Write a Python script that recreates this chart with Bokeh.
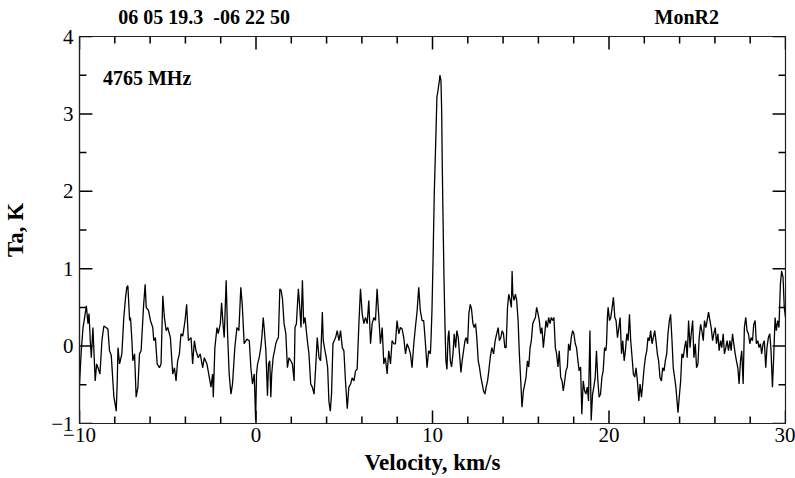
from bokeh.plotting import figure
from bokeh.models import Range1d, FixedTicker, LinearAxis, Label
from bokeh.embed import file_html
from bokeh.resources import INLINE

# ---- data: velocity (km/s) and antenna temperature Ta (K) ----
vel_a = [-10.00, -9.90, -9.80, -9.71, -9.61, -9.52, -9.46, -9.39, -9.33, -9.24,
         -9.11, -9.03, -8.95, -8.84, -8.73, -8.62, -8.50, -8.39, -8.30, -8.20,
         -8.11, -8.05, -7.98, -7.92, -7.86, -7.82, -7.73, -7.60, -7.49, -7.39,
         -7.32, -7.26, -7.16, -7.11, -7.03, -6.98, -6.88, -6.79, -6.69, -6.60,
         -6.51, -6.37, -6.28, -6.22, -6.09, -5.98, -5.85, -5.79, -5.70, -5.60,
         -5.47, -5.38, -5.28, -5.19, -5.09, -5.00, -4.85, -4.72, -4.62, -4.53,
         -4.44, -4.34, -4.25, -4.15, -4.02, -3.93, -3.83, -3.68, -3.59, -3.49,
         -3.40, -3.27, -3.16, -3.02, -2.93, -2.78, -2.68, -2.55, -2.46, -2.42,
         -2.33, -2.21, -2.14, -2.02, -1.95, -1.87, -1.80, -1.69, -1.61, -1.52,
         -1.42, -1.33, -1.20, -1.08, -0.97, -0.86, -0.78, -0.67, -0.52, -0.38,
         -0.29, -0.20, -0.10, -0.02]
ta_a = [-0.49, -0.06, 0.24, 0.37, 0.52, 0.29, 0.42, 0.07, -0.15, 0.24,
        -0.45, -0.23, -0.28, -0.36, 0.07, 0.26, 0.24, 0.22, -0.06, -0.12,
        -0.45, -0.66, -0.75, -0.84, -0.45, -0.02, -0.23, -0.10, 0.37, 0.63,
        0.76, 0.78, 0.33, 0.37, 0.07, -0.19, -0.10, -0.66, -0.53, -0.10,
        -0.06, 0.52, 0.80, 0.50, 0.46, 0.33, 0.24, 0.07, 0.11, -0.23,
        -0.28, -0.23, 0.65, 0.37, 0.20, 0.24, 0.11, -0.36, -0.28, -0.45,
        -0.19, -0.10, 0.16, 0.13, 0.33, 0.54, 0.07, 0.11, -0.23, 0.07,
        -0.06, -0.15, -0.10, -0.28, -0.15, -0.23, -0.36, -0.53, -0.36, -0.66,
        -0.02, 0.24, 0.16, 0.29, 0.56, 0.29, 0.11, 0.85, 0.16, -0.36,
        -0.62, -0.49, -0.02, 0.24, 0.20, 0.76, 0.54, 0.03, 0.09, 0.07,
        -0.28, -0.49, -0.36, -0.96]

vel_b = [0.03, 0.09, 0.18, 0.27, 0.33, 0.41, 0.46, 0.56, 0.65, 0.71,
         0.78, 0.84, 0.89, 0.97, 1.05, 1.12, 1.21, 1.27, 1.35, 1.42,
         1.50, 1.59, 1.69, 1.78, 1.87, 1.97, 2.06, 2.16, 2.21, 2.29,
         2.40, 2.48, 2.55, 2.63, 2.70, 2.78, 2.85, 2.93, 3.00, 3.10,
         3.19, 3.29, 3.38, 3.47, 3.57, 3.66, 3.76, 3.81, 3.91, 3.98,
         4.06, 4.13, 4.21, 4.28, 4.36, 4.43, 4.51, 4.60, 4.70, 4.79,
         4.89, 4.98, 5.07, 5.17, 5.26, 5.36, 5.45, 5.55, 5.64, 5.73,
         5.83, 5.92, 6.02, 6.11, 6.20, 6.30, 6.39, 6.49, 6.58, 6.68,
         6.77, 6.86, 6.96, 7.05, 7.15, 7.24, 7.33, 7.43, 7.52, 7.62,
         7.71, 7.81, 7.90, 7.99, 8.09, 8.18, 8.28, 8.37, 8.47, 8.56,
         8.65, 8.75, 8.84, 8.94, 9.03, 9.13, 9.22, 9.31, 9.41, 9.50,
         9.59, 9.69, 9.78, 9.88]
ta_b = [-0.36, -0.23, -0.15, -0.02, 0.11, 0.37, 0.24, -0.06, -0.64, -0.23,
        -0.19, -0.66, -0.36, -0.15, -0.06, 0.03, 0.09, 0.11, 0.74, 0.72,
        0.61, 0.29, 0.16, -0.28, -0.15, -0.19, -0.23, -0.45, 0.24, 0.29,
        0.74, 0.50, 0.24, 0.85, 0.29, 0.37, 0.20, 0.03, -0.10, -0.49,
        -0.53, -0.62, -0.28, 0.11, -0.15, -0.19, 0.44, 0.07, -0.06, -0.15,
        -0.28, -0.71, -0.84, -0.62, 0.03, 0.07, 0.11, 0.20, 0.07, 0.20,
        -0.02, -0.06, -0.45, -0.81, -0.53, -0.49, -0.41, -0.45, -0.32, -0.30,
        0.29, 0.74, 0.41, 0.29, 0.37, 0.29, 0.59, 0.03, 0.29, 0.37,
        0.33, 0.74, 0.37, 0.03, 0.24, -0.23, -0.15, -0.36, -0.06, -0.23,
        0.07, 0.03, 0.03, 0.33, 0.16, 0.24, 0.22, 0.11, -0.10, 0.03,
        -0.02, -0.10, -0.28, 0.03, 0.24, 0.46, 0.76, 0.46, 0.33, 0.33,
        0.07, -0.28, -0.06, -0.10]

vel_c = [9.92, 9.97, 10.03, 10.10, 10.18, 10.25, 10.31, 10.39, 10.42, 10.48,
         10.52, 10.55, 10.59, 10.65, 10.71, 10.76, 10.82, 10.88, 10.93, 11.01,
         11.08, 11.16, 11.23, 11.31, 11.38, 11.46, 11.53, 11.61, 11.68, 11.76,
         11.84, 11.91, 11.99, 12.06, 12.14, 12.21, 12.29, 12.36, 12.44, 12.51,
         12.59, 12.66, 12.74, 12.82, 12.89, 12.97, 13.04, 13.12, 13.19, 13.27,
         13.36, 13.46, 13.55, 13.64, 13.72, 13.79, 13.87, 13.95, 14.02, 14.10,
         14.17, 14.25, 14.32, 14.40, 14.47, 14.51, 14.55, 14.62, 14.70, 14.77,
         14.85, 14.92, 15.00, 15.07, 15.15, 15.23, 15.30, 15.38, 15.45, 15.53,
         15.60, 15.68, 15.75, 15.83, 15.90, 15.98, 16.05, 16.13, 16.20, 16.28,
         16.36, 16.43, 16.51, 16.58, 16.66, 16.73, 16.81, 16.88, 16.96, 17.03,
         17.11, 17.18, 17.26, 17.34, 17.41, 17.49, 17.56, 17.64, 17.71, 17.79,
         17.86, 17.94, 18.01, 18.09, 18.16, 18.24, 18.31, 18.39, 18.46, 18.54,
         18.62, 18.69, 18.77, 18.84, 18.92, 18.99, 19.07, 19.14, 19.22, 19.29,
         19.37, 19.44, 19.52, 19.60, 19.67, 19.75, 19.82]
ta_c = [0.11, 0.46, 1.10, 1.97, 2.61, 3.22, 3.30, 3.43, 3.50, 3.43,
        3.04, 2.40, 1.75, 0.89, 0.24, -0.19, -0.30, 0.11, 0.20, -0.19,
        -0.27, -0.10, 0.16, -0.02, 0.20, 0.11, -0.10, -0.34, -0.19, -0.06,
        0.07, 0.11, 0.03, 0.42, 0.54, 0.48, 0.29, 0.24, 0.29, 0.11,
        -0.19, -0.27, -0.40, -0.49, -0.58, -0.62, -0.53, -0.45, -0.32, -0.15,
        -0.02, -0.10, 0.07, 0.16, 0.24, 0.07, 0.11, 0.20, 0.16, -0.02,
        -0.02, 0.50, 0.67, 0.59, 0.50, 0.97, 0.67, 0.59, 0.67, 0.59,
        0.33, -0.10, -0.45, -0.79, -0.58, -0.49, -0.40, -0.19, -0.27, -0.02,
        0.07, 0.29, 0.33, 0.37, 0.50, 0.42, 0.33, 0.16, 0.24, -0.02,
        0.16, 0.33, 0.24, 0.37, 0.29, 0.37, 0.33, 0.37, -0.02, -0.10,
        -0.27, -0.06, -0.40, -0.45, -0.58, -0.45, -0.32, -0.27, 0.03, -0.06,
        0.11, 0.20, 0.16, 0.03, -0.02, -0.19, -0.32, -0.27, -0.88, -0.45,
        -0.58, -0.62, -0.53, -0.71, 0.20, -0.96, -0.62, -0.53, -0.40, -0.06,
        -0.45, -0.66, -0.62, -0.40, -0.32, -0.02, -0.06]

vel_d = [19.86, 19.91, 19.95, 20.03, 20.10, 20.18, 20.25, 20.33, 20.40, 20.48,
         20.56, 20.63, 20.71, 20.78, 20.86, 20.93, 21.01, 21.08, 21.16, 21.23,
         21.31, 21.38, 21.46, 21.53, 21.61, 21.69, 21.76, 21.84, 21.91, 21.99,
         22.06, 22.14, 22.21, 22.29, 22.36, 22.44, 22.51, 22.59, 22.66, 22.74,
         22.81, 22.89, 22.97, 23.04, 23.12, 23.19, 23.27, 23.34, 23.42, 23.49,
         23.57, 23.64, 23.72, 23.79, 23.87, 23.91, 23.98, 24.06, 24.13, 24.21,
         24.28, 24.36, 24.43, 24.51, 24.59, 24.66, 24.74, 24.81, 24.89, 24.96,
         25.04, 25.11, 25.19, 25.26, 25.34, 25.41, 25.49, 25.56, 25.64, 25.72,
         25.79, 25.87, 25.94, 26.02, 26.09, 26.17, 26.24, 26.32, 26.39, 26.47,
         26.54, 26.62, 26.69, 26.77, 26.85, 26.92, 27.00, 27.07, 27.15, 27.22,
         27.30, 27.37, 27.45, 27.52, 27.60, 27.67, 27.75, 27.82, 27.90, 27.98,
         28.05, 28.13, 28.20, 28.28, 28.35, 28.43, 28.50, 28.58, 28.65, 28.73,
         28.80, 28.88, 28.95, 29.03, 29.11, 29.18, 29.26, 29.33, 29.41, 29.48,
         29.56, 29.63, 29.71, 29.78, 29.86, 29.93, 30.00]
ta_d = [0.03, 0.37, 0.50, 0.33, 0.37, 0.50, 0.63, 0.37, 0.33, 0.11,
        0.24, 0.37, -0.10, 0.07, -0.19, -0.06, 0.16, 0.07, 0.41, 0.07,
        -0.15, -0.36, -0.40, -0.28, -0.45, -0.71, -0.49, -0.66, -0.49, -0.28,
        -0.15, -0.06, 0.11, 0.07, 0.20, 0.03, 0.11, 0.20, 0.07, -0.10,
        -0.19, -0.41, -0.45, -0.28, -0.32, -0.19, -0.10, 0.16, 0.33, 0.41,
        0.07, -0.28, -0.41, -0.53, -0.75, -0.86, -0.66, -0.45, -0.10, -0.15,
        -0.02, 0.07, -0.15, 0.33, -0.02, 0.16, 0.33, -0.15, 0.03, -0.28,
        -0.23, 0.11, 0.28, 0.20, 0.07, 0.33, 0.24, 0.33, 0.44, 0.33,
        0.24, 0.07, 0.16, 0.24, 0.03, 0.16, -0.06, 0.07, -0.02, 0.16,
        -0.10, -0.02, 0.07, -0.06, 0.07, -0.06, 0.16, 0.03, -0.10, -0.19,
        -0.28, -0.49, -0.19, -0.06, -0.49, 0.24, 0.37, 0.20, 0.16, 0.03,
        0.11, 0.07, 0.28, 0.33, 0.03, 0.07, -0.02, 0.03, -0.10, 0.03,
        0.07, -0.28, -0.02, 0.11, 0.16, -0.06, -0.53, -0.15, 0.37, 0.20,
        0.33, 0.24, 0.80, 0.97, 0.89, 0.50, 0.37]

velocity = vel_a + vel_b + vel_c + vel_d
ta = ta_a + ta_b + ta_c + ta_d

x_lo, x_hi = -10, 30
y_lo, y_hi = -1, 4
x_major = [-10, 0, 10, 20, 30]
x_minor = [-8, -6, -4, -2, 2, 4, 6, 8, 12, 14, 16, 18, 22, 24, 26, 28]
y_major = [-1, 0, 1, 2, 3, 4]
y_minor = [-0.5, 0.5, 1.5, 2.5, 3.5]

# header texts and the velocity at which each is centred
header_texts = ["06 05 19.3\u00a0 -06 22 50", "MonR2"]
header_at = [-2.94, 24.41]
freq_text = "4765 MHz"
x_title = "Velocity, km/s"
y_title = "Ta, K"

SERIF = "Liberation Serif"
W, H = 795, 478
BL, BR, BT, BB = 76, 10, 36, 55
MAJOR_LEN = 13   # px, inward tick length
MINOR_LEN = 7

p = figure(width=W, height=H, output_backend="svg", toolbar_location=None,
           x_range=Range1d(x_lo, x_hi), y_range=Range1d(y_lo, y_hi),
           min_border_left=BL, min_border_right=BR, min_border_top=BT,
           min_border_bottom=BB,
           x_axis_label=x_title, y_axis_label=y_title)
p.grid.visible = False
p.outline_line_color = "#222222"
p.outline_line_width = 1.2
p.background_fill_color = "white"
p.border_fill_color = "white"

p.line(velocity, ta, line_color="black", line_width=1.3)

# inward tick marks on all four edges of the frame
px_x = (W - BL - BR) / (x_hi - x_lo)   # pixels per km/s
px_y = (H - BT - BB) / (y_hi - y_lo)   # pixels per K
tick_style = dict(line_color="black", line_width=1.5)
for xs, length in ((x_major, MAJOR_LEN), (x_minor, MINOR_LEN)):
    d = length / px_y
    p.segment(x0=xs, y0=[y_lo] * len(xs), x1=xs, y1=[y_lo + d] * len(xs), **tick_style)
    p.segment(x0=xs, y0=[y_hi] * len(xs), x1=xs, y1=[y_hi - d] * len(xs), **tick_style)
for ys, length in ((y_major, MAJOR_LEN), (y_minor, MINOR_LEN)):
    d = length / px_x
    p.segment(x0=[x_lo] * len(ys), y0=ys, x1=[x_lo + d] * len(ys), y1=ys, **tick_style)
    p.segment(x0=[x_hi] * len(ys), y0=ys, x1=[x_hi - d] * len(ys), y1=ys, **tick_style)

for ax, major, minor in ((p.xaxis[0], x_major, x_minor), (p.yaxis[0], y_major, y_minor)):
    ax.ticker = FixedTicker(ticks=major, minor_ticks=minor)
    ax.major_tick_in = 0
    ax.major_tick_out = 0
    ax.minor_tick_in = 0
    ax.minor_tick_out = 0
    ax.axis_line_color = "#222222"
    ax.axis_line_width = 1.2
    ax.major_label_text_font = SERIF
    ax.major_label_text_font_size = "21px"
    ax.major_label_text_color = "black"
    ax.axis_label_text_font = SERIF
    ax.axis_label_text_font_size = "23px"
    ax.axis_label_text_font_style = "bold"
    ax.axis_label_text_color = "black"

p.xaxis[0].major_label_standoff = 4
p.xaxis[0].axis_label_standoff = 5
p.yaxis[0].major_label_standoff = 6
p.yaxis[0].axis_label_standoff = 20

# header line above the frame, drawn as the labels of a tick-less top axis
header = LinearAxis()
header.ticker = FixedTicker(ticks=header_at, minor_ticks=[])
header.major_label_overrides = {v: t for v, t in zip(header_at, header_texts)}
header.major_tick_in = 0
header.major_tick_out = 0
header.minor_tick_in = 0
header.minor_tick_out = 0
header.axis_line_color = None
header.major_label_standoff = 9
header.major_label_text_font = SERIF
header.major_label_text_font_style = "bold"
header.major_label_text_font_size = "20px"
header.major_label_text_color = "black"
p.add_layout(header, "above")

p.add_layout(Label(x=-8.67, y=3.47, text=freq_text, text_font=SERIF,
                   text_font_style="bold", text_font_size="20px",
                   text_color="black", text_baseline="alphabetic"))

open("out.html", "w").write(file_html(p, INLINE))
